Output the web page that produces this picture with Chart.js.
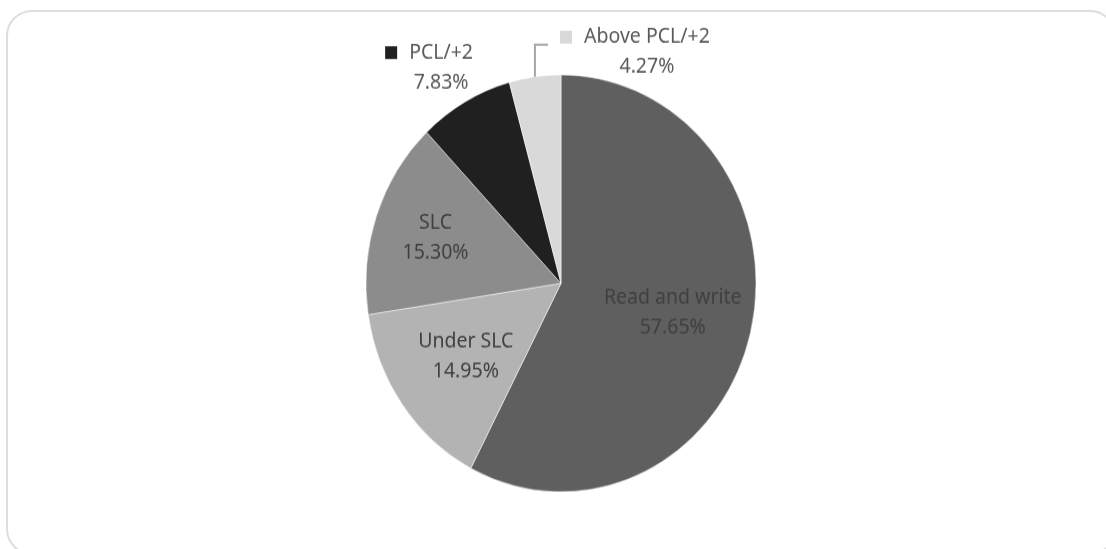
<!DOCTYPE html>
<html>
<head>
<meta charset="utf-8">
<title>Education level</title>
<script src="https://cdn.jsdelivr.net/npm/chart.js@4.4.1/dist/chart.umd.min.js"></script>
<style>
  html, body { margin: 0; padding: 0; background: #fff; overflow: hidden; }
  body { width: 1106px; height: 549px; position: relative; }
  .frame {
    position: absolute; left: 6px; top: 10px;
    width: 1110px; height: 545px;
    border: 2px solid #dedede; border-radius: 26px;
    box-sizing: border-box;
  }
  /* the pie is drawn a bit squashed, then stretched back vertically */
  .stretch {
    position: absolute; left: 0; top: 0;
    width: 1106px; height: 514px;
    transform: scaleY(1.0692); transform-origin: 0 0;
  }
</style>
</head>
<body>
<div class="frame"></div>
<div class="stretch"><canvas id="eduChart" width="1106" height="514"></canvas></div>
<script>
// categories and shares (%)
const labels = ["Read and write", "Under SLC", "SLC", "PCL/+2", "Above PCL/+2"];
const shares = [57.65, 14.95, 15.30, 7.83, 4.27];
const sliceColors = ["#5f5f5f", "#b3b3b3", "#8c8c8c", "#202020", "#d9d9d9"];

// where each label sits: inside at a fraction of the radius, or outside next to the rim
const labelPlace = [
  { r: 0.59 },
  { r: 0.60 },
  { r: 0.68 },
  { outside: true, dx: -24, dy: -32 },
  { outside: true, dx: 112, dy: -23, leader: true }
];

const sliceLabels = {
  id: "sliceLabels",
  afterDatasetsDraw(chart) {
    const ctx = chart.ctx;
    const arcs = chart.getDatasetMeta(0).data;
    ctx.save();
    ctx.font = '19.5px "Noto Sans"';
    ctx.textAlign = "center";
    ctx.textBaseline = "middle";
    arcs.forEach((arc, i) => {
      const { x, y, startAngle, endAngle, outerRadius } =
        arc.getProps(["x", "y", "startAngle", "endAngle", "outerRadius"], true);
      const mid = (startAngle + endAngle) / 2;
      const place = labelPlace[i];
      const line1 = labels[i];
      const line2 = shares[i].toFixed(2) + "%";
      const gap = 28;

      if (!place.outside) {
        const cx = x + Math.cos(mid) * outerRadius * place.r;
        const cy = y + Math.sin(mid) * outerRadius * place.r;
        ctx.fillStyle = "#404040";
        ctx.fillText(line1, cx, cy - gap / 2);
        ctx.fillText(line2, cx, cy + gap / 2);
        return;
      }

      const ex = x + Math.cos(mid) * outerRadius;
      const ey = y + Math.sin(mid) * outerRadius;
      const cx = ex + place.dx;
      const cy = ey + place.dy;

      if (place.leader) {
        ctx.strokeStyle = "#a6a6a6";
        ctx.lineWidth = 2;
        ctx.beginPath();
        ctx.moveTo(ex, ey);
        ctx.lineTo(ex, ey - 30);
        ctx.lineTo(ex + 13, ey - 30);
        ctx.stroke();
      }

      ctx.fillStyle = "#595959";
      ctx.fillText(line1, cx, cy - gap / 2);
      ctx.fillText(line2, cx, cy + gap / 2);

      // legend key in front of the category name
      const w = ctx.measureText(line1).width;
      ctx.fillStyle = sliceColors[i];
      ctx.fillRect(cx - w / 2 - 24, cy - gap / 2 - 6, 12, 12);
    });
    ctx.restore();
  }
};

new Chart(document.getElementById("eduChart"), {
  type: "pie",
  data: {
    labels: labels,
    datasets: [{
      data: shares,
      backgroundColor: sliceColors,
      borderColor: "#ffffff",
      borderWidth: 0.5,
      radius: 195
    }]
  },
  options: {
    responsive: false,
    animation: false,
    layout: { padding: { left: 116, right: 100, top: 70, bottom: 54 } },
    plugins: {
      legend: { display: false },
      tooltip: { enabled: false }
    }
  },
  plugins: [sliceLabels]
});
</script>
</body>
</html>
